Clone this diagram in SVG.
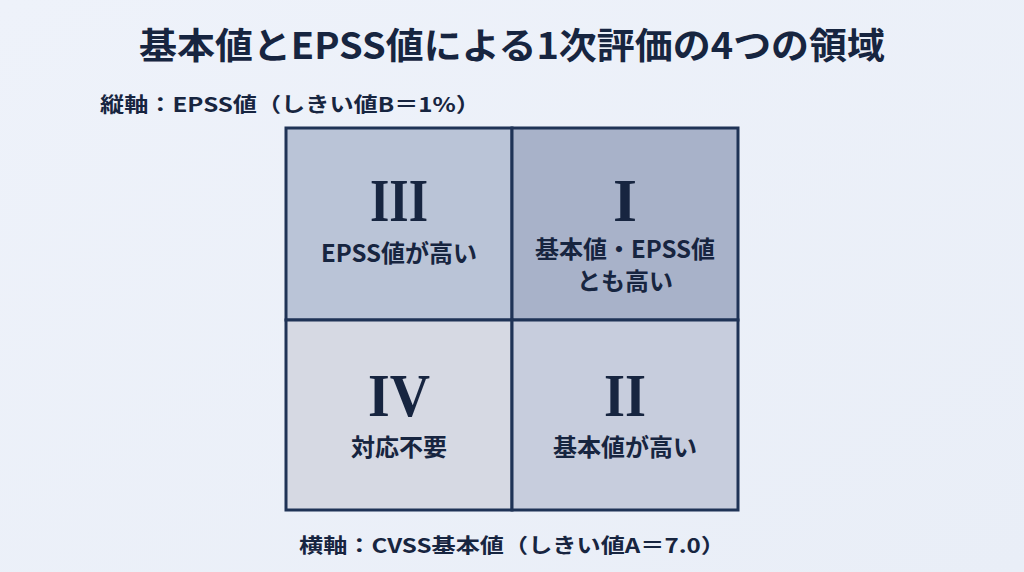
<svg xmlns="http://www.w3.org/2000/svg" width="1024" height="572" viewBox="0 0 1024 572">
<defs>
<linearGradient id="bg" x1="0" y1="0" x2="1" y2="1"><stop offset="0" stop-color="#eef2fa"/><stop offset="1" stop-color="#e9eef7"/></linearGradient>
</defs>
<style>
.jp{font-family:"Noto Sans CJK JP","Noto Sans",sans-serif;font-weight:700;fill:#172540}
.num{font-family:"Liberation Serif","DejaVu Serif",serif;font-weight:700;fill:#172540;font-size:62px;text-anchor:middle}
.lab{font-size:24px;text-anchor:middle}
.cell{stroke:#1f3356;stroke-width:3}
</style>
<rect width="1024" height="572" fill="url(#bg)"/>
<text class="jp" x="512" y="59" font-size="36" text-anchor="middle" textLength="746" lengthAdjust="spacingAndGlyphs">基本値とEPSS値による1次評価の4つの領域</text>
<text class="jp" x="100" y="112" font-size="20" textLength="380" lengthAdjust="spacingAndGlyphs">縦軸：EPSS値（しきい値B＝1%）</text>
<g id="q3"><rect class="cell" x="286" y="128" width="226" height="192" fill="#bac4d7"/><text class="num" x="399" y="221" textLength="58" lengthAdjust="spacingAndGlyphs">III</text><text class="jp lab" x="399" y="262">EPSS値が高い</text></g>
<g id="q1"><rect class="cell" x="512" y="128" width="226" height="192" fill="#a8b2c9"/><text class="num" x="625" y="221" textLength="24" lengthAdjust="spacingAndGlyphs">I</text><text class="jp lab" x="625" y="258" font-size="23">基本値・EPSS値</text><text class="jp lab" x="625" y="290" font-size="23">とも高い</text></g>
<g id="q4"><rect class="cell" x="286" y="320" width="226" height="190" fill="#d6d9e3"/><text class="num" x="399" y="416" textLength="62" lengthAdjust="spacingAndGlyphs">IV</text><text class="jp lab" x="399" y="456">対応不要</text></g>
<g id="q2"><rect class="cell" x="512" y="320" width="226" height="190" fill="#c7cddd"/><text class="num" x="625" y="416" textLength="42" lengthAdjust="spacingAndGlyphs">II</text><text class="jp lab" x="625" y="456">基本値が高い</text></g>
<text class="jp" x="512" y="553" font-size="20" text-anchor="middle" textLength="426" lengthAdjust="spacingAndGlyphs">横軸：CVSS基本値（しきい値A＝7.0）</text>
</svg>
